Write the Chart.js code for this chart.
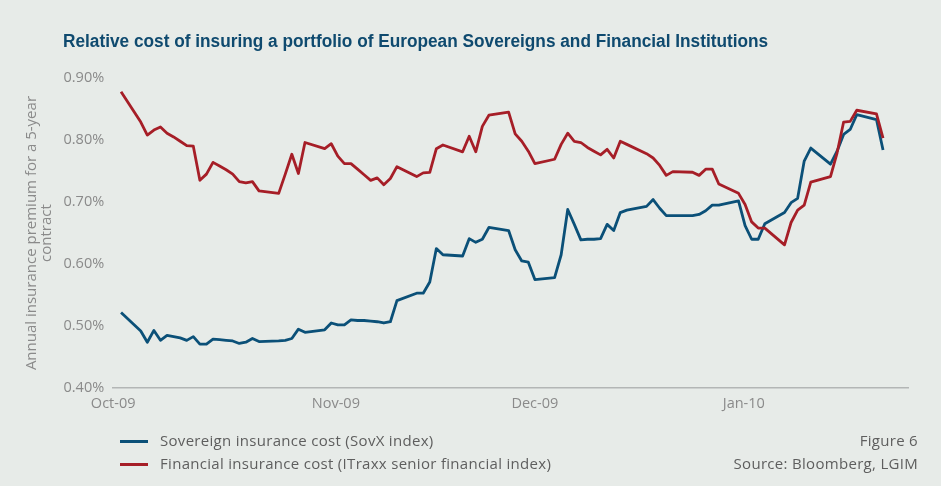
<!DOCTYPE html>
<html>
<head>
<meta charset="utf-8">
<script src="https://cdn.jsdelivr.net/npm/chart.js@4.4.1/dist/chart.umd.min.js"></script>
<style>
  html, body {
    margin: 0;
    padding: 0;
    background: #e7ebe8;
  }
  #wrap {
    position: relative;
    width: 941px;
    height: 486px;
    overflow: hidden;
    background: #e7ebe8;
  }
  #canvas {
    position: absolute;
    left: 0;
    top: 0;
  }
  #header {
    position: absolute;
    left: 63px;
    top: 31px;
    font-family: 'Liberation Sans Narrow', 'Liberation Sans', sans-serif;
    font-weight: bold;
    font-size: 18px;
    color: #0f4a6f;
    white-space: nowrap;
    transform: scaleX(0.958);
    transform-origin: left top;
  }
  .note, .legend-item {
    position: absolute;
    font-family: 'Open Sans', sans-serif;
    font-size: 15px;
    letter-spacing: 0.3px;
    color: #5e5e5e;
    white-space: nowrap;
  }
  .legend-item {
    left: 120px;
  }
  .legend-item span.swatch {
    display: inline-block;
    width: 28px;
    height: 3px;
    margin-right: 12px;
    vertical-align: middle;
  }
</style>
</head>
<body>
<div id="wrap">
  <canvas id="canvas" width="941" height="486"></canvas>
  <div id="header">Relative cost of insuring a portfolio of European Sovereigns and Financial Institutions</div>
  <div id="legend"></div>
  <div class="note" style="right:23px; top:430px;">Figure 6</div>
  <div class="note" style="right:23px; top:453px;">Source: Bloomberg, LGIM</div>
</div>
<script>
// trading-day index of each observation
const days = [
  0, 3, 4, 5, 6, 7, 8, 9, 10, 11, 12, 13, 14, 15, 16, 17, 18, 19, 20, 21,
  24, 25, 26, 27, 28, 31, 32, 33, 34, 35, 36, 37, 38, 39, 40, 41, 42, 45,
  46, 47, 48, 49, 52, 53, 54, 55, 56, 59, 60, 61, 62, 63, 66, 67, 68, 69,
  70, 71, 72, 73, 74, 75, 76, 77, 80, 81, 82, 83, 84, 87, 88, 89, 90, 91,
  94, 95, 96, 97, 98, 101, 102, 103, 104, 105, 108, 109, 110, 111, 112, 115, 116
];

// SovX index, % per year
const sovereign = [
  0.522, 0.492, 0.474, 0.493, 0.477, 0.485, 0.483, 0.481, 0.477, 0.483,
  0.471, 0.471, 0.479, 0.478, 0.477, 0.476, 0.472, 0.474, 0.480, 0.475,
  0.476, 0.477, 0.480, 0.495, 0.490, 0.494, 0.505, 0.502, 0.502, 0.510,
  0.509, 0.509, 0.508, 0.507, 0.505, 0.507, 0.541, 0.553, 0.553, 0.571,
  0.625, 0.615, 0.613, 0.641, 0.635, 0.640, 0.659, 0.654, 0.623, 0.605,
  0.603, 0.575, 0.578, 0.615, 0.688, 0.664, 0.639, 0.640, 0.640, 0.641,
  0.664, 0.654, 0.683, 0.687, 0.693, 0.704, 0.690, 0.678, 0.678, 0.678,
  0.680, 0.686, 0.695, 0.695, 0.702, 0.662, 0.640, 0.640, 0.665, 0.683,
  0.699, 0.706, 0.766, 0.787, 0.761, 0.782, 0.809, 0.817, 0.841, 0.833, 0.784
];

// iTraxx senior financial index, % per year
const financial = [
  0.878, 0.829, 0.808, 0.816, 0.821, 0.811, 0.805, 0.798, 0.791, 0.790,
  0.735, 0.745, 0.764, 0.758, 0.752, 0.745, 0.733, 0.731, 0.733, 0.718,
  0.714, 0.745, 0.777, 0.746, 0.796, 0.786, 0.794, 0.774, 0.762, 0.762,
  0.753, 0.744, 0.735, 0.739, 0.728, 0.738, 0.757, 0.741, 0.747, 0.748,
  0.786, 0.792, 0.781, 0.806, 0.781, 0.822, 0.840, 0.845, 0.810, 0.798,
  0.782, 0.762, 0.769, 0.793, 0.811, 0.798, 0.796, 0.788, 0.782, 0.776,
  0.785, 0.771, 0.798, 0.793, 0.778, 0.771, 0.759, 0.743, 0.749, 0.748,
  0.743, 0.753, 0.753, 0.729, 0.714, 0.696, 0.668, 0.658, 0.658, 0.631,
  0.667, 0.687, 0.695, 0.732, 0.741, 0.779, 0.829, 0.830, 0.848, 0.842, 0.803
];

const monthLabels = ['Oct-09', 'Nov-09', 'Dec-09', 'Jan-10'];
const monthTicks = [-1.2, 32.7, 63.0, 94.8];

const seriesNames = [
  'Sovereign insurance cost (SovX index)',
  'Financial insurance cost (ITraxx senior financial index)'
];
const seriesColors = ['#0b5078', '#a61e27'];

function toPoints(values) {
  return values.map((v, i) => ({x: days[i], y: v}));
}

function buildLegend() {
  const legend = document.getElementById('legend');
  seriesNames.forEach((name, i) => {
    const item = document.createElement('div');
    item.className = 'legend-item';
    item.style.top = (430 + i * 23) + 'px';
    const swatch = document.createElement('span');
    swatch.className = 'swatch';
    swatch.style.background = seriesColors[i];
    item.appendChild(swatch);
    item.appendChild(document.createTextNode(name));
    legend.appendChild(item);
  });
}

document.addEventListener('DOMContentLoaded', () => {
  buildLegend();

  const tickFont = {family: "'Open Sans', sans-serif", size: 14.5};
  const grey = '#8a8a8a';

  const config = {
    type: 'line',
    data: {
      datasets: [
        {
          label: seriesNames[0],
          data: toPoints(sovereign),
          borderColor: seriesColors[0],
          borderWidth: 2.8,
          order: 1,
        },
        {
          label: seriesNames[1],
          data: toPoints(financial),
          borderColor: seriesColors[1],
          borderWidth: 2.8,
          order: 0,
        },
      ],
    },
    options: {
      responsive: false,
      animation: false,
      events: [],
      elements: {
        point: {radius: 0},
        line: {tension: 0, borderJoinStyle: 'round'},
      },
      layout: {
        padding: {left: 24.5, right: 33, top: 78, bottom: 66.5},
      },
      plugins: {
        legend: {display: false},
        tooltip: {enabled: false},
      },
      scales: {
        x: {
          type: 'linear',
          min: -1.2,
          max: 119.8,
          afterBuildTicks: axis => {
            axis.ticks = monthTicks.map(value => ({value}));
          },
          ticks: {
            autoSkip: false,
            maxRotation: 0,
            color: grey,
            font: tickFont,
            padding: 7,
            callback: (value, index) => monthLabels[index],
          },
          grid: {display: false, drawTicks: false},
          border: {display: true, color: '#b3b6b5', width: 1.5},
        },
        y: {
          min: 0.4,
          max: 0.9,
          ticks: {
            stepSize: 0.1,
            color: grey,
            font: tickFont,
            padding: 9,
            callback: value => value.toFixed(2) + '%',
          },
          grid: {display: false, drawTicks: false},
          border: {display: false},
          title: {
            display: true,
            text: ['Annual insurance premium for a 5-year', 'contract'],
            color: grey,
            font: {family: "'Open Sans', sans-serif", size: 15, lineHeight: 1},
            padding: {top: 0, bottom: 0},
          },
        },
      },
    },
  };

  const context = document.getElementById('canvas').getContext('2d');
  new Chart(context, config);
});
</script>
</body>
</html>
